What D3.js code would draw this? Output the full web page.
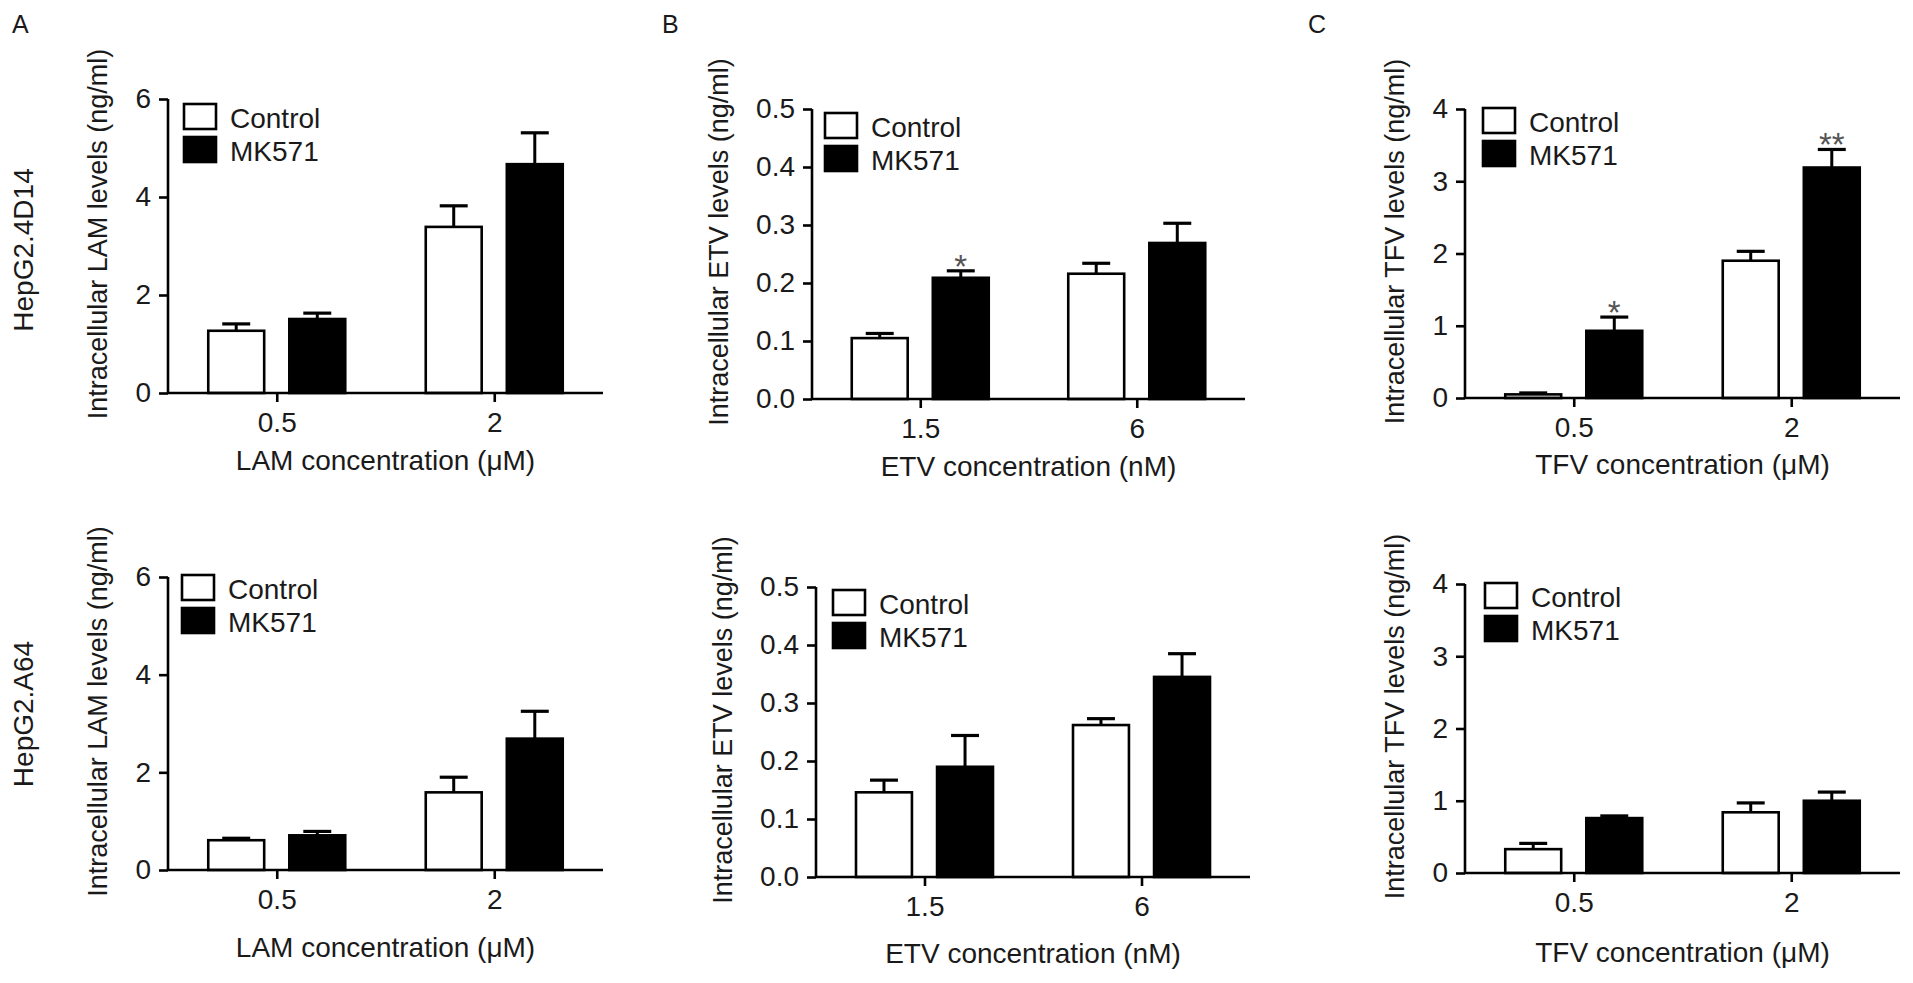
<!DOCTYPE html>
<html><head><meta charset="utf-8">
<script src="https://cdn.jsdelivr.net/npm/d3@7"></script>
<style>
body{margin:0;background:#fff;}
text{font-family:"Liberation Sans",Arial,sans-serif;fill:#1a1a1a;}
</style>
</head><body>
<svg id="chart" width="1913" height="983"></svg>
<script>
// ---------- data ----------
const seriesNames = ["Control", "MK571"];
const cellLines = ["HepG2.4D14", "HepG2.A64"];
const panelLetters = ["A", "B", "C"];

const concLAM = ["0.5", "2"];
const concETV = ["1.5", "6"];
const concTFV = ["0.5", "2"];

const ticksLAM = [0, 2, 4, 6];
const ticksETV = [0, 0.1, 0.2, 0.3, 0.4, 0.5];
const ticksTFV = [0, 1, 2, 3, 4];

const yTitleLAM = "Intracellular LAM levels (ng/ml)";
const yTitleETV = "Intracellular ETV levels (ng/ml)";
const yTitleTFV = "Intracellular TFV levels (ng/ml)";
const xTitleLAM = "LAM concentration (\u03BCM)";
const xTitleETV = "ETV concentration (nM)";
const xTitleTFV = "TFV concentration (\u03BCM)";

// HepG2.4D14 (mean, SEM)
const lam4D14Control = [1.27, 3.39];   const lam4D14ControlSEM = [0.14, 0.43];
const lam4D14MK571   = [1.51, 4.67];   const lam4D14MK571SEM   = [0.12, 0.64];
const etv4D14Control = [0.105, 0.216]; const etv4D14ControlSEM = [0.008, 0.018];
const etv4D14MK571   = [0.209, 0.269]; const etv4D14MK571SEM   = [0.012, 0.034];
const tfv4D14Control = [0.05, 1.90];   const tfv4D14ControlSEM = [0.02, 0.13];
const tfv4D14MK571   = [0.93, 3.19];   const tfv4D14MK571SEM   = [0.19, 0.25];
const etv4D14Sig = [["", ""], ["*", ""]];      // [series][category]
const tfv4D14Sig = [["", ""], ["*", "**"]];

// HepG2.A64 (mean, SEM)
const lamA64Control = [0.61, 1.59];   const lamA64ControlSEM = [0.04, 0.31];
const lamA64MK571   = [0.71, 2.69];   const lamA64MK571SEM   = [0.08, 0.56];
const etvA64Control = [0.146, 0.262]; const etvA64ControlSEM = [0.021, 0.011];
const etvA64MK571   = [0.190, 0.345]; const etvA64MK571SEM   = [0.054, 0.040];
const tfvA64Control = [0.33, 0.84];   const tfvA64ControlSEM = [0.08, 0.13];
const tfvA64MK571   = [0.76, 1.00];   const tfvA64MK571SEM   = [0.03, 0.12];
const noSig = [["", ""], ["", ""]];

// ---------- layout ----------
const panels = [
  {letter: 0, row: 0, cats: concLAM, ticks: ticksLAM, fmt: d3.format("d"), ytitle: yTitleLAM, xtitle: xTitleLAM,
   means: [lam4D14Control, lam4D14MK571], sems: [lam4D14ControlSEM, lam4D14MK571SEM], sig: noSig,
   x0: 168, x1: 603, yT: 99, yB: 393, lg: [16, 5], xtGap: 77},
  {letter: 1, row: 0, cats: concETV, ticks: ticksETV, fmt: d3.format(".1f"), ytitle: yTitleETV, xtitle: xTitleETV,
   means: [etv4D14Control, etv4D14MK571], sems: [etv4D14ControlSEM, etv4D14MK571SEM], sig: etv4D14Sig,
   x0: 812, x1: 1245, yT: 109, yB: 399, lg: [13, 4], xtGap: 77},
  {letter: 2, row: 0, cats: concTFV, ticks: ticksTFV, fmt: d3.format("d"), ytitle: yTitleTFV, xtitle: xTitleTFV,
   means: [tfv4D14Control, tfv4D14MK571], sems: [tfv4D14ControlSEM, tfv4D14MK571SEM], sig: tfv4D14Sig,
   x0: 1465, x1: 1900, yT: 109, yB: 398, lg: [18, -1], xtGap: 76},
  {letter: 0, row: 1, cats: concLAM, ticks: ticksLAM, fmt: d3.format("d"), ytitle: yTitleLAM, xtitle: xTitleLAM,
   means: [lamA64Control, lamA64MK571], sems: [lamA64ControlSEM, lamA64MK571SEM], sig: noSig,
   x0: 168, x1: 603, yT: 577, yB: 870, lg: [14, -2], xtGap: 87},
  {letter: 1, row: 1, cats: concETV, ticks: ticksETV, fmt: d3.format(".1f"), ytitle: yTitleETV, xtitle: xTitleETV,
   means: [etvA64Control, etvA64MK571], sems: [etvA64ControlSEM, etvA64MK571SEM], sig: noSig,
   x0: 816, x1: 1250, yT: 587, yB: 877, lg: [17, 3], xtGap: 86},
  {letter: 2, row: 1, cats: concTFV, ticks: ticksTFV, fmt: d3.format("d"), ytitle: yTitleTFV, xtitle: xTitleTFV,
   means: [tfvA64Control, tfvA64MK571], sems: [tfvA64ControlSEM, tfvA64MK571SEM], sig: noSig,
   x0: 1465, x1: 1900, yT: 584, yB: 873, lg: [20, -1], xtGap: 89}
];

const svg = d3.select("#chart");
const FS = 28;
const SW = 2.6;

// panel letters
const letterX = [12, 662, 1308];
panelLetters.forEach((L, i) => {
  svg.append("text").attr("x", letterX[i]).attr("y", 33).attr("font-size", 25).text(L);
});
// row labels
const rowY = [250, 714];
cellLines.forEach((c, i) => {
  svg.append("text").attr("transform", `translate(33,${rowY[i]}) rotate(-90)`)
    .attr("text-anchor", "middle").attr("font-size", FS).text(c);
});

panels.forEach(p => {
  const g = svg.append("g");
  const y = d3.scaleLinear().domain([d3.min(p.ticks), d3.max(p.ticks)]).range([p.yB, p.yT]);
  const x = d3.scalePoint().domain(p.cats).range([p.x0, p.x1]).padding(0.5);
  const inner = d3.scaleBand().domain(seriesNames).range([-68.5, 68.5]).paddingInner(0.31).paddingOuter(0);
  const bw = inner.bandwidth();

  // bars
  seriesNames.forEach((s, si) => {
    p.cats.forEach((c, ci) => {
      const m = p.means[si][ci], e = p.sems[si][ci];
      const cx = x(c) + inner(s) + bw / 2;
      // error bar (upper)
      g.append("line").attr("x1", cx).attr("x2", cx).attr("y1", y(m)).attr("y2", y(m + e))
        .attr("stroke", "#000").attr("stroke-width", 3);
      g.append("line").attr("x1", cx - bw / 4).attr("x2", cx + bw / 4).attr("y1", y(m + e)).attr("y2", y(m + e))
        .attr("stroke", "#000").attr("stroke-width", 3.2);
      g.append("rect").attr("x", x(c) + inner(s)).attr("width", bw)
        .attr("y", y(m)).attr("height", y(0) - y(m))
        .attr("fill", si === 0 ? "#fff" : "#000").attr("stroke", "#000").attr("stroke-width", SW);
      const sg = p.sig[si][ci];
      if (sg) {
        g.append("text").attr("x", cx).attr("y", y(m + e) + 7).attr("text-anchor", "middle")
          .attr("font-size", 33).style("fill", "#555").text(sg);
      }
    });
  });

  // y axis
  const yAxis = g.append("g").attr("transform", `translate(${p.x0},0)`)
    .call(d3.axisLeft(y).tickValues(p.ticks).tickFormat(p.fmt).tickSize(9).tickPadding(8));
  yAxis.select(".domain").attr("d", `M0,${p.yB}V${p.yT}`).attr("stroke-width", SW);
  yAxis.selectAll(".tick line").attr("stroke-width", SW);
  yAxis.selectAll("text").attr("font-size", FS).attr("font-family", "Liberation Sans, Arial, sans-serif").style("fill", "#1a1a1a");

  // x axis
  const xAxis = g.append("g").attr("transform", `translate(0,${p.yB})`)
    .call(d3.axisBottom(x).tickSize(9).tickPadding(10));
  xAxis.select(".domain").attr("d", `M${p.x0},0H${p.x1}`).attr("stroke-width", SW);
  xAxis.selectAll(".tick line").attr("stroke-width", SW);
  xAxis.selectAll("text").attr("font-size", FS).attr("font-family", "Liberation Sans, Arial, sans-serif").style("fill", "#1a1a1a");

  // titles
  g.append("text").attr("x", (p.x0 + p.x1) / 2).attr("y", p.yB + p.xtGap)
    .attr("text-anchor", "middle").attr("font-size", FS).text(p.xtitle);
  let maxW = 0;
  yAxis.selectAll("text").each(function () { maxW = Math.max(maxW, this.getComputedTextLength()); });
  const ytx = p.x0 - 17 - maxW - 28;
  g.append("text").attr("transform", `translate(${ytx},${(p.yT + p.yB) / 2 - 12}) rotate(-90)`)
    .attr("text-anchor", "middle").attr("font-size", 27).text(p.ytitle);

  // legend
  const lx = p.x0 + p.lg[0], ly = p.yT + p.lg[1];
  seriesNames.forEach((s, si) => {
    const by = ly + si * 33;
    g.append("rect").attr("x", lx).attr("y", by).attr("width", 32).attr("height", 25)
      .attr("fill", si === 0 ? "#fff" : "#000").attr("stroke", "#000").attr("stroke-width", SW);
    g.append("text").attr("x", lx + 46).attr("y", by + 24).attr("font-size", FS).text(s);
  });
});
</script>
</body></html>
